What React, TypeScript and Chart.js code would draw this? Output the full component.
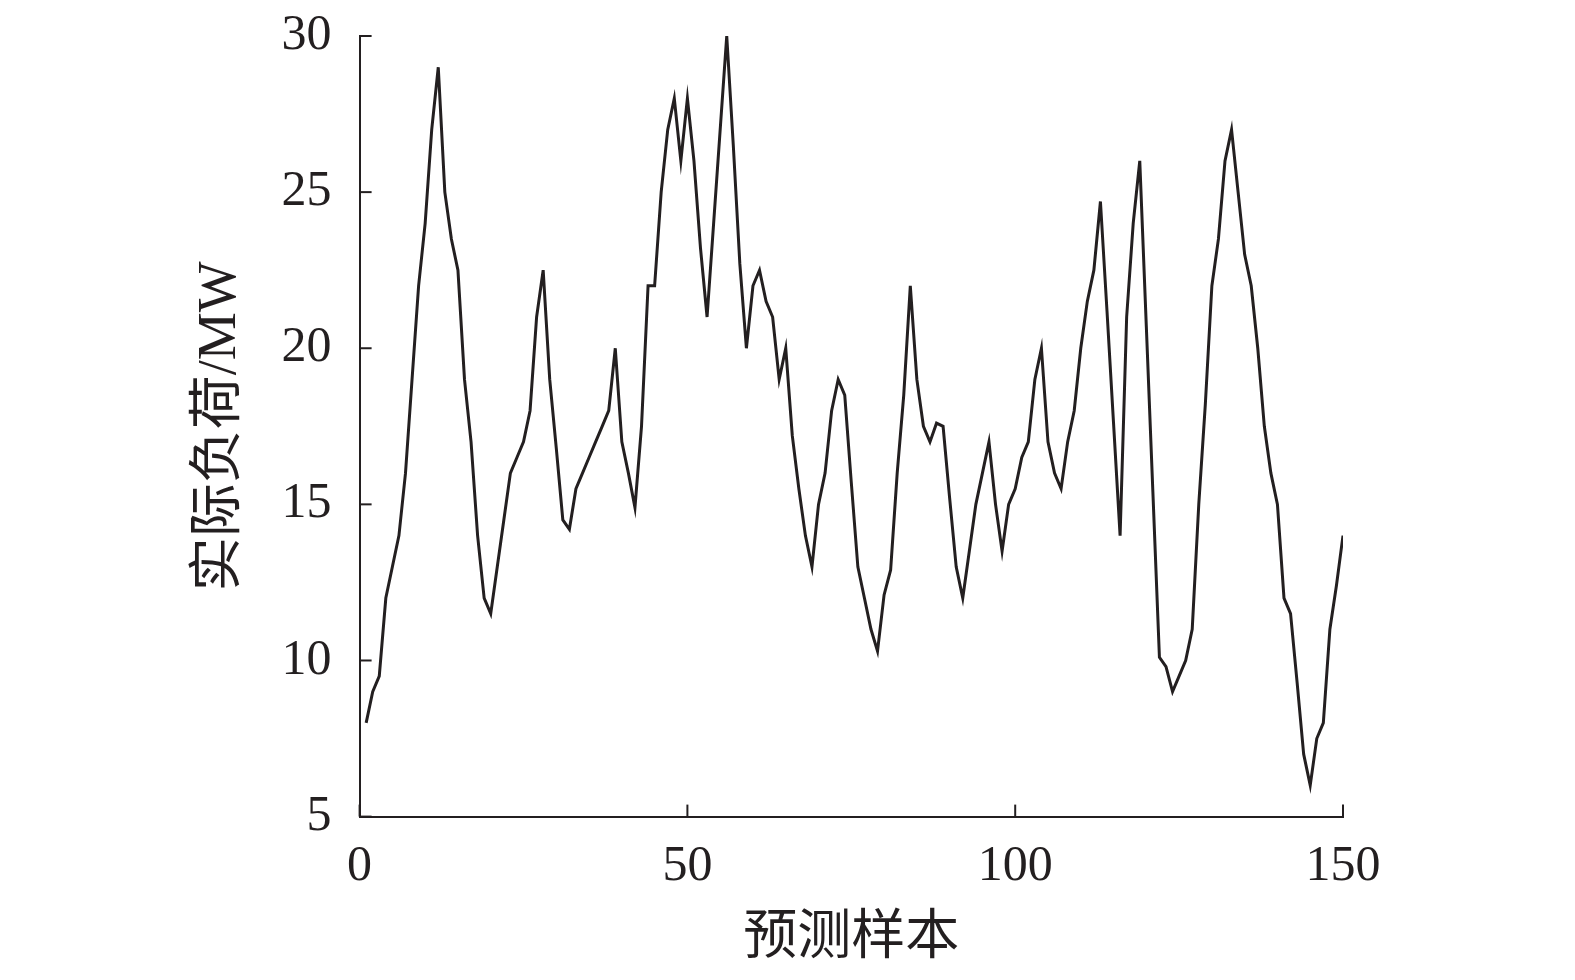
import React, { useEffect, useRef } from "react";
import { Chart, registerables } from "chart.js";

Chart.register(...registerables);

// Actual load (MW) for prediction samples 1..150
const loadValues: number[] = [
  8, 9, 9.5, 12, 13, 14, 16, 19, 22, 24,
  27, 29, 25, 23.5, 22.5, 19, 17, 14, 12, 11.5,
  13, 14.5, 16, 16.5, 17, 18, 21, 22.5, 19, 16.8,
  14.5, 14.2, 15.5, 16, 16.5, 17, 17.5, 18, 20, 17,
  16, 14.9, 17.5, 22, 22, 25, 27, 28, 26, 28,
  26, 23.2, 21, 24, 27, 30, 26.5, 22.7, 20, 22,
  22.5, 21.5, 21, 19, 20, 17.2, 15.5, 14, 13, 15,
  16, 18, 19, 18.5, 15.7, 13, 12, 11, 10.3, 12.1,
  12.9, 16, 18.5, 22, 19, 17.5, 17, 17.6, 17.5, 15.2,
  13, 12, 13.5, 15, 16, 17, 15, 13.5, 15, 15.5,
  16.5, 17, 19, 20, 17, 16, 15.5, 17, 18, 20,
  21.5, 22.5, 24.7, 21.2, 17.6, 14, 21, 24, 26, 20.7,
  15.4, 10.1, 9.8, 9, 9.5, 10, 11, 15, 18.2, 22,
  23.5, 26, 27, 25, 23, 22, 20, 17.5, 16, 15,
  12, 11.5, 9.3, 7, 6, 7.5, 8, 11, 12.4, 14,
];
const sampleIds: number[] = loadValues.map((_, i) => i + 1);

const xTitle = "预测样本";
const yTitle = "实际负荷/MW";
const xMin = 0, xMax = 150, xStep = 50;
const yMin = 5, yMax = 30, yStep = 5;

const INK = "#231f20";
const TICK_FONT = "'Liberation Serif', 'Times New Roman', serif";
const TITLE_FONT = "'Liberation Serif', 'Noto Sans CJK SC', serif";

const innerTicks = {
  id: "innerTicks",
  afterDatasetsDraw(chart: any) {
    const { ctx, chartArea, scales } = chart;
    const x = scales.x, y = scales.y;
    ctx.save();
    ctx.strokeStyle = INK;
    ctx.lineWidth = 2;
    x.ticks.forEach((t: any) => {
      const px = x.getPixelForValue(t.value);
      ctx.beginPath();
      ctx.moveTo(px, chartArea.bottom);
      ctx.lineTo(px, chartArea.bottom - 12);
      ctx.stroke();
    });
    y.ticks.forEach((t: any) => {
      const py = y.getPixelForValue(t.value);
      ctx.beginPath();
      ctx.moveTo(chartArea.left, py);
      ctx.lineTo(chartArea.left + 12, py);
      ctx.stroke();
    });
    ctx.restore();
  },
};

export default function App() {
  const ref = useRef<HTMLCanvasElement | null>(null);
  useEffect(() => {
    if (!ref.current) return;
    const chart = new Chart(ref.current, {
      type: "line",
      data: {
        datasets: [
          {
            data: sampleIds.map((s, i) => ({ x: s, y: loadValues[i] })),
            borderColor: INK,
            borderWidth: 3,
            pointRadius: 0,
            tension: 0,
            fill: false,
          },
        ],
      },
      options: {
        animation: false,
        responsive: false,
        layout: { padding: { left: 188, top: 36, right: 232, bottom: 8 } },
        plugins: { legend: { display: false }, tooltip: { enabled: false } },
        scales: {
          x: {
            type: "linear",
            min: xMin,
            max: xMax,
            afterFit: (s: any) => { s.height = 155.4; s.paddingLeft = 0; s.paddingRight = 0; },
            ticks: { stepSize: xStep, color: INK, padding: 20, font: { family: TICK_FONT, size: 50 } },
            grid: { display: false, drawTicks: false },
            border: { display: true, color: INK, width: 2 },
            title: { display: true, text: xTitle, color: INK, padding: 0, font: { family: TITLE_FONT, size: 54 } },
          },
          y: {
            type: "linear",
            min: yMin,
            max: yMax,
            afterFit: (s: any) => { s.width = 171.6; s.paddingTop = 0; s.paddingBottom = 0; },
            ticks: { stepSize: yStep, color: INK, padding: 28, font: { family: TICK_FONT, size: 50 } },
            grid: { display: false, drawTicks: false },
            border: { display: true, color: INK, width: 2 },
            title: { display: true, text: yTitle, color: INK, padding: 0, font: { family: TITLE_FONT, size: 54 } },
          },
        },
      },
      plugins: [innerTicks],
    });
    return () => chart.destroy();
  }, []);
  return (
    <div style={{ position: "fixed", left: 0, top: 0, width: 1575, height: 980, background: "#fff" }}>
      <canvas ref={ref} width={1575} height={980} style={{ width: 1575, height: 980 }} />
    </div>
  );
}
